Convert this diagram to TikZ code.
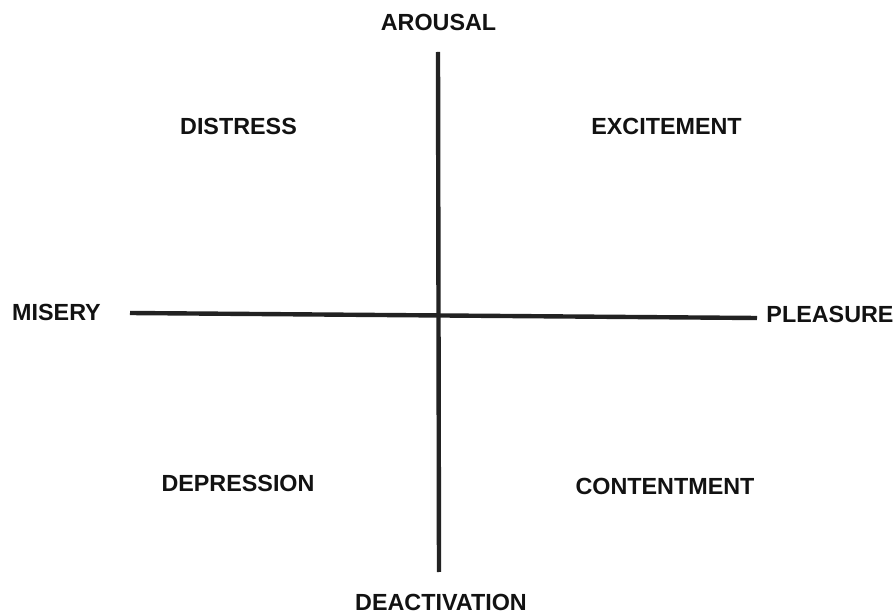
\documentclass[tikz,border=0pt]{standalone}
\usepackage{fontspec}
\setmainfont{Liberation Sans}
\usetikzlibrary{positioning}
\definecolor{axisgray}{RGB}{34,34,34}
\definecolor{labelblack}{RGB}{18,18,18}

\begin{document}
\begin{tikzpicture}[
    x=0.75pt, y=-0.75pt,
    pole/.style={inner sep=0pt, text=labelblack, font=\fontsize{17.5}{20}\selectfont\bfseries},
    quadrant/.style={inner sep=0pt, text=labelblack, font=\fontsize{17.5}{20}\selectfont\bfseries},
    axis/.style={line width=3.3pt, color=axisgray}
]
\useasboundingbox (0,0) rectangle (894,613);
% axis ends
\coordinate (top) at (438,52);
\coordinate (bottom) at (439,572);
\coordinate (left) at (130,313);
\coordinate (right) at (757,318);
% poles
\node[pole] (arousal) at (438.5,22.5) {AROUSAL};
\node[pole] (deactivation) at (441,602) {DEACTIVATION};
\node[pole] (misery) at (56.5,312) {MISERY};
\node[pole] (pleasure) at (830,314) {PLEASURE};
% quadrants
\node[quadrant] (distress) at (238.5,126) {DISTRESS};
\node[quadrant] (excitement) at (666.5,126) {EXCITEMENT};
\node[quadrant] (depression) at (238,483) {DEPRESSION};
\node[quadrant] (contentment) at (665,486) {CONTENTMENT};
\draw[axis] (top) -- (bottom);
\draw[axis] (left) -- (right);
\end{tikzpicture}
\end{document}
